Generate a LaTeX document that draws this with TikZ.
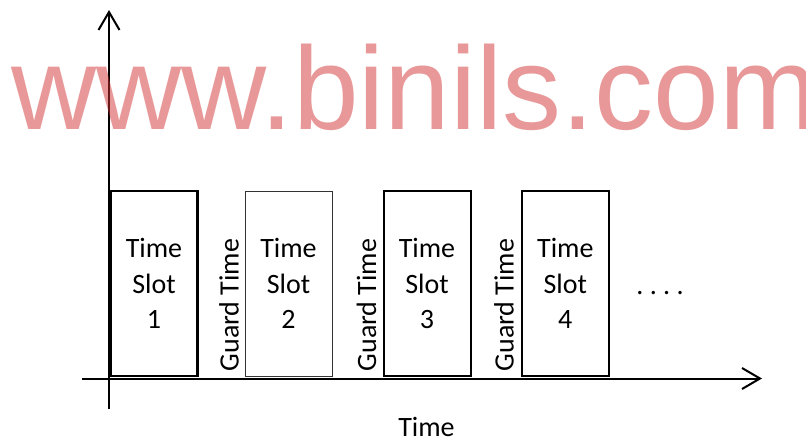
\documentclass[tikz,border=0pt]{standalone}
\usepackage{fontspec}
\setmainfont{Carlito}
\newfontfamily\wmfont{Liberation Sans}
\usetikzlibrary{arrows.meta, positioning}

\definecolor{wmred}{RGB}{210,50,50}

\tikzset{
  axis/.style={line width=2pt, -{Straight Barb[length=18pt, width=21pt, line width=2pt]}},
  slotbox/.style={draw, line width=2pt, minimum width=87pt, minimum height=185pt, inner sep=0pt,
    align=center, font=\fontsize{28}{35.5}\selectfont},
  guard/.style={rotate=90, inner sep=0pt, font=\fontsize{28}{34}\selectfont},
}

\begin{document}
\begin{tikzpicture}[x=1pt, y=-1pt]
\useasboundingbox (0,0) rectangle (806,439);

% axes
\coordinate (ybot) at (109,409);
\coordinate (ytop) at (109,10);
\coordinate (xleft) at (82,378.5);
\coordinate (xright) at (762,378.5);
\draw[axis] (ybot) -- (ytop);
\draw[axis] (xleft) -- (xright);

% time slots
\node[slotbox, line width=2.6pt] (slot1) at (154,283.5) {Time\\Slot\\1};
\node[slotbox, line width=0.8pt, draw=black!80] (slot2) at (288.5,283.5) {Time\\Slot\\2};
\node[slotbox] (slot3) at (427,283.5) {Time\\Slot\\3};
\node[slotbox] (slot4) at (565.3,283.5) {Time\\Slot\\4};

% guard times
\node[guard] (guard1) at (229,305) {Guard Time};
\node[guard] (guard2) at (366.5,305) {Guard Time};
\node[guard] (guard3) at (504,305) {Guard Time};

\node[anchor=base, font=\fontsize{28}{34}\selectfont] (dots) at (660,294.5) {.\ .\ .\ .};
\node[anchor=base, font=\fontsize{28}{34}\selectfont] (timelabel) at (426.5,436) {Time};

% watermark
\node[anchor=base west, inner sep=0pt, text=wmred, opacity=0.5,
  font=\wmfont\fontsize{118}{130}\selectfont] (mark) at (11,129.3) {www.binils.com};
\end{tikzpicture}
\end{document}
